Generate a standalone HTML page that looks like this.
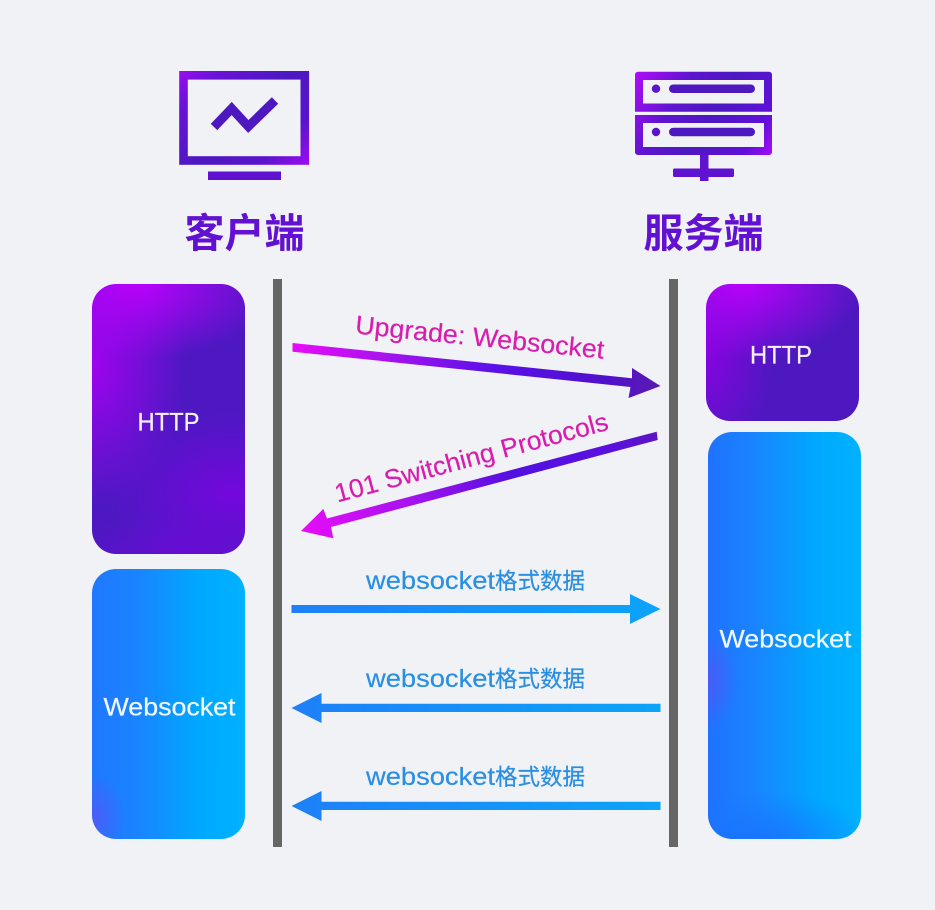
<!DOCTYPE html>
<html>
<head>
<meta charset="utf-8">
<style>
html,body{margin:0;padding:0;background:#f0f2f5;}
body{width:935px;height:910px;overflow:hidden;position:relative;font-family:"Liberation Sans","Noto Sans CJK SC",sans-serif;}
.box{position:absolute;border-radius:24px;}
.p{background:
 radial-gradient(ellipse 90% 28% at 30% 0%,rgba(190,0,255,.95),rgba(190,0,255,0) 100%),
 radial-gradient(ellipse 62% 52% at 0% 30%,rgba(170,0,245,.88),rgba(170,0,245,0) 100%),
 radial-gradient(ellipse 80% 30% at 90% 78%,rgba(122,5,225,.85),rgba(122,5,225,0) 100%),
 radial-gradient(ellipse 70% 14% at 55% 100%,rgba(108,10,215,.75),rgba(108,10,215,0) 100%),
 #4d18c2;}
.p2{background:
 radial-gradient(ellipse 78% 55% at 25% 0%,rgba(190,0,255,.95),rgba(190,0,255,0) 100%),
 radial-gradient(ellipse 45% 80% at 0% 50%,rgba(145,0,230,.85),rgba(145,0,230,0) 100%),
 #4d18c0;}
.b{background:
 radial-gradient(ellipse 22% 16% at 0% 92%,rgba(95,80,245,.7),rgba(95,80,245,0) 100%),
 linear-gradient(90deg,#1f78ff 0%,#1a84ff 30%,#00a8ff 70%,#00b2ff 100%);}
.b2{background:
 radial-gradient(ellipse 20% 12% at 0% 61%,rgba(95,80,245,.65),rgba(95,80,245,0) 100%),
 radial-gradient(ellipse 70% 12% at 35% 100%,rgba(25,115,255,.9),rgba(25,115,255,0) 100%),
 linear-gradient(90deg,#1f72ff 0%,#1a84ff 30%,#00a8ff 70%,#00b2ff 100%);}
svg{position:absolute;left:0;top:0;}
</style>
</head>
<body>
<div class="box p" style="left:92px;top:284px;width:153px;height:270px;"></div>
<div class="box b" style="left:92px;top:569px;width:153px;height:270px;"></div>
<div class="box p2" style="left:706px;top:284px;width:153px;height:137px;"></div>
<div class="box b2" style="left:708px;top:432px;width:153px;height:407px;"></div>

<svg width="935" height="910" viewBox="0 0 935 910" xmlns="http://www.w3.org/2000/svg">
<defs>
<linearGradient id="mon" gradientUnits="userSpaceOnUse" x1="190" y1="60" x2="298" y2="176">
 <stop offset="0" stop-color="#9a0ef0"/><stop offset=".18" stop-color="#6a12d8"/><stop offset=".5" stop-color="#4d18c0"/><stop offset=".78" stop-color="#5a14cc"/><stop offset="1" stop-color="#a00cf2"/>
</linearGradient>
<linearGradient id="srv" gradientUnits="userSpaceOnUse" x1="635" y1="72" x2="772" y2="155">
 <stop offset="0" stop-color="#b00cf8"/><stop offset=".3" stop-color="#5f14d0"/><stop offset=".55" stop-color="#4d18c0"/><stop offset=".85" stop-color="#6010d8"/><stop offset="1" stop-color="#a80cf5"/>
</linearGradient>
<linearGradient id="a1" gradientUnits="userSpaceOnUse" x1="292" y1="347" x2="661" y2="385">
 <stop offset="0" stop-color="#e80cf8"/><stop offset=".25" stop-color="#a812ee"/><stop offset=".55" stop-color="#5a10e8"/><stop offset=".85" stop-color="#5010cc"/><stop offset="1" stop-color="#5a1ab0"/>
</linearGradient>
<linearGradient id="a2" gradientUnits="userSpaceOnUse" x1="300" y1="531" x2="657" y2="436">
 <stop offset="0" stop-color="#e80cf8"/><stop offset=".3" stop-color="#a812ee"/><stop offset=".6" stop-color="#5210e0"/><stop offset=".85" stop-color="#5a10e0"/><stop offset="1" stop-color="#5c14c4"/>
</linearGradient>
<linearGradient id="bl" gradientUnits="userSpaceOnUse" x1="291" y1="0" x2="660" y2="0">
 <stop offset="0" stop-color="#1e80f8"/><stop offset="1" stop-color="#0ca4f8"/>
</linearGradient>
</defs>

<!-- lifelines -->
<rect x="273" y="279" width="9" height="568" fill="#666"/>
<rect x="669" y="279" width="9" height="568" fill="#666"/>

<!-- monitor icon -->
<rect x="183.5" y="75.3" width="121.3" height="85.2" fill="none" stroke="url(#mon)" stroke-width="8.6"/>
<rect x="208" y="171.5" width="73" height="8.5" fill="#5f12d0"/>
<polyline points="214,127 231.7,108.5 248.3,126.5 275,100.5" fill="none" stroke="#4d18c0" stroke-width="9"/>

<!-- server icon -->
<path fill="url(#srv)" fill-rule="evenodd" d="M638 71.7H769a3 3 0 0 1 3 3V111.7H635V74.7a3 3 0 0 1 3-3ZM643 80V103.5H764V80Z"/>
<path fill="url(#srv)" fill-rule="evenodd" d="M635 115H772V152a3 3 0 0 1-3 3H638a3 3 0 0 1-3-3ZM643 123V147H764V123Z"/>
<circle cx="656" cy="88.7" r="4.2" fill="#5a14cc"/>
<rect x="669" y="84.5" width="86" height="8.5" rx="4.25" fill="#4d18c0"/>
<circle cx="656" cy="132" r="4.2" fill="#5a14cc"/>
<rect x="669" y="127.8" width="86" height="8.5" rx="4.25" fill="#4d18c0"/>
<rect x="700" y="155" width="8.5" height="26" fill="#5f12d0"/>
<rect x="673" y="168.5" width="61" height="8.5" rx="1.5" fill="#5f12d0"/>

<!-- titles -->
<text x="244.5" y="247" text-anchor="middle" font-size="40" font-weight="700" fill="#6210d2" font-family="'Liberation Sans','Noto Sans CJK SC',sans-serif">客户端</text>
<text x="703.5" y="247" text-anchor="middle" font-size="40" font-weight="700" fill="#6210d2" font-family="'Liberation Sans','Noto Sans CJK SC',sans-serif">服务端</text>

<!-- box labels -->
<g fill="#f6efff" font-size="25" text-anchor="middle" stroke="#f6efff" stroke-width=".25" font-family="'Liberation Sans','Noto Sans CJK SC',sans-serif">
<text x="168.5" y="430.5" textLength="62" lengthAdjust="spacingAndGlyphs">HTTP</text>
<text x="781" y="363.5" textLength="62" lengthAdjust="spacingAndGlyphs">HTTP</text>
<text x="169.5" y="715.5" fill="#eef8ff" textLength="132" lengthAdjust="spacingAndGlyphs">Websocket</text>
<text x="785.5" y="647.5" fill="#eef8ff" textLength="132" lengthAdjust="spacingAndGlyphs">Websocket</text>
</g>

<!-- diagonal arrows -->
<polygon fill="url(#a1)" points="292.5,343 632,378.3 632,368 660.5,386 628.5,398 630.5,387 292.5,351.7"/>
<polygon fill="url(#a2)" points="656.7,431.7 657.7,440 331,527 333.3,538.3 301,531 323.3,509 327,518.5"/>

<!-- diagonal labels -->
<g fill="#d81cae" stroke="#d81cae" stroke-width=".2" font-size="26" font-family="'Liberation Sans',sans-serif" text-anchor="middle">
<text transform="translate(479 346) rotate(5.8)" textLength="250" lengthAdjust="spacingAndGlyphs">Upgrade: Websocket</text>
<text transform="translate(473.5 466) rotate(-15)" textLength="282" lengthAdjust="spacingAndGlyphs">101 Switching Protocols</text>
</g>

<!-- blue arrows -->
<polygon fill="url(#bl)" points="291.5,605 630,605 630,594 660.5,609 630,624 630,613 291.5,613"/>
<polygon fill="url(#bl)" points="660.5,703.7 321.5,703.7 321.5,693 291.5,708 321.5,723 321.5,712 660.5,712"/>
<polygon fill="url(#bl)" points="660.5,801.7 321.5,801.7 321.5,791 291.5,806 321.5,821 321.5,810 660.5,810"/>

<!-- blue labels -->
<g fill="#2a8fe2" stroke="#2a8fe2" stroke-width=".2" font-size="25" font-family="'Liberation Sans',sans-serif">
<text x="366" y="589" textLength="129" lengthAdjust="spacingAndGlyphs">websocket</text>
<text x="366" y="687" textLength="129" lengthAdjust="spacingAndGlyphs">websocket</text>
<text x="366" y="785" textLength="129" lengthAdjust="spacingAndGlyphs">websocket</text>
</g>
<g fill="#2a8fe2" stroke="#2a8fe2" stroke-width=".25" font-size="22.5" font-family="'Liberation Sans','Noto Sans CJK SC',sans-serif">
<text x="495" y="589">格式数据</text>
<text x="495" y="687">格式数据</text>
<text x="495" y="785">格式数据</text>
</g>
</svg>
</body>
</html>
